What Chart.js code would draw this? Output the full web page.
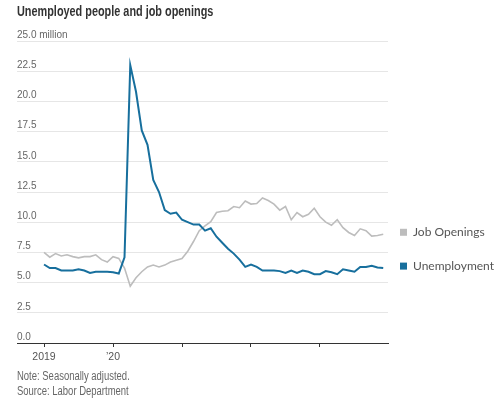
<!DOCTYPE html>
<html>
<head>
<meta charset="utf-8">
<script src="https://cdn.jsdelivr.net/npm/chart.js@4"></script>
<style>
  html, body { margin: 0; padding: 0; background: #fff; }
  #wrap { position: relative; width: 500px; height: 405px; overflow: hidden; }
  #chart { position: absolute; left: 0; top: 0; }
  .title { position: absolute; left: 17px; top: 3px; font: bold 14.5px "Liberation Sans", sans-serif; color: #333; transform: scaleX(0.75); transform-origin: left top; white-space: nowrap; }
  .note { position: absolute; left: 17px; font: 12px "Liberation Sans", sans-serif; color: #666; transform: scaleX(0.79); transform-origin: left top; white-space: nowrap; }
</style>
</head>
<body>
<div id="wrap">
  <canvas id="chart" width="500" height="405"></canvas>
  <div class="title">Unemployed people and job openings</div>
  <div class="note" style="top:369px">Note: Seasonally adjusted.</div>
  <div class="note" style="top:384px">Source: Labor Department</div>
</div>
<script>
// monthly, Jan 2019 - Dec 2023, millions
const months = [
  '2019-01','2019-02','2019-03','2019-04','2019-05','2019-06','2019-07','2019-08','2019-09','2019-10','2019-11','2019-12',
  '2020-01','2020-02','2020-03','2020-04','2020-05','2020-06','2020-07','2020-08','2020-09','2020-10','2020-11','2020-12',
  '2021-01','2021-02','2021-03','2021-04','2021-05','2021-06','2021-07','2021-08','2021-09','2021-10','2021-11','2021-12',
  '2022-01','2022-02','2022-03','2022-04','2022-05','2022-06','2022-07','2022-08','2022-09','2022-10','2022-11','2022-12',
  '2023-01','2023-02','2023-03','2023-04','2023-05','2023-06','2023-07','2023-08','2023-09','2023-10','2023-11','2023-12'
];

const unemployment = [
  6.5, 6.2, 6.2, 6.0, 6.0, 6.0, 6.1, 6.0, 5.8, 5.9, 5.9, 5.9,
  5.85, 5.75, 7.1, 23.0, 20.8, 17.6, 16.4, 13.5, 12.5, 11.0, 10.7, 10.8,
  10.2, 10.0, 9.8, 9.8, 9.3, 9.5, 8.8, 8.3, 7.8, 7.4, 6.9, 6.3,
  6.5, 6.3, 6.0, 6.0, 6.0, 5.95, 5.8, 6.0, 5.8, 6.0, 5.9, 5.7,
  5.7, 5.95, 5.85, 5.7, 6.1, 6.0, 5.9, 6.3, 6.3, 6.4, 6.25, 6.2
];

const jobOpenings = [
  7.5, 7.1, 7.4, 7.2, 7.3, 7.15, 7.05, 7.15, 7.15, 7.3, 6.9, 6.7,
  7.15, 7.0, 6.2, 4.7, 5.4, 5.9, 6.3, 6.45, 6.3, 6.45, 6.7, 6.85,
  7.0, 7.6, 8.4, 9.3, 9.7, 10.05, 10.8, 10.9, 10.95, 11.3, 11.2, 11.75,
  11.5, 11.55, 12.0, 11.8, 11.5, 11.0, 11.3, 10.2, 10.8, 10.45, 10.65, 11.15,
  10.45, 10.0, 9.75, 10.2, 9.55, 9.15, 8.9, 9.45, 9.3, 8.85, 8.9, 9.0
];

const xTickMonths = [0, 12, 24, 36, 48];
const xTickLabels = ['2019', '\u201920', '', '', ''];
const yTicks = [0, 2.5, 5, 7.5, 10, 12.5, 15, 17.5, 20, 22.5, 25];

const BLUE = '#176f9d';
const GREY = '#bdbdbd';

const endLabels = {
  id: 'endLabels',
  afterDatasetsDraw(chart) {
    const { ctx, scales: { y } } = chart;
    ctx.save();
    ctx.font = '12px Lato, sans-serif';
    ctx.textBaseline = 'middle';
    chart.data.datasets.forEach(ds => {
      const last = ds.data[ds.data.length - 1];
      const py = y.getPixelForValue(last.y) - 2;
      ctx.fillStyle = ds.borderColor;
      ctx.fillRect(400, py - 3.5, 7, 7);
      ctx.fillStyle = '#555';
      ctx.fillText(ds.label, 413, py);
    });
    ctx.restore();
  }
};

Chart.defaults.font.family = '"Liberation Sans", sans-serif';

new Chart(document.getElementById('chart').getContext('2d'), {
  type: 'line',
  data: {
    datasets: [
      {
        label: 'Job Openings',
        data: jobOpenings.map((v, i) => ({ x: i, y: v })),
        borderColor: GREY,
        borderWidth: 1.6,
        pointRadius: 0,
        tension: 0,
        order: 2
      },
      {
        label: 'Unemployment',
        data: unemployment.map((v, i) => ({ x: i, y: v })),
        borderColor: BLUE,
        borderWidth: 2,
        pointRadius: 0,
        tension: 0,
        order: 1
      }
    ]
  },
  options: {
    responsive: false,
    animation: false,
    devicePixelRatio: 1,
    layout: { padding: { left: 17, right: 112, top: 41, bottom: 0 } },
    plugins: { legend: { display: false }, tooltip: { enabled: false } },
    scales: {
      x: {
        type: 'linear',
        min: -4.7,
        max: 59.83,
        afterFit: scale => { scale.height = 62; },
        afterBuildTicks: scale => { scale.ticks = xTickMonths.map(v => ({ value: v })); },
        grid: { drawOnChartArea: false, drawTicks: true, tickLength: 4, color: '#333' },
        border: { display: true, color: '#333', width: 1 },
        ticks: {
          padding: 4,
          color: '#555',
          font: { size: 10.5 },
          maxRotation: 0,
          callback: v => xTickLabels[xTickMonths.indexOf(v)] ?? ''
        }
      },
      y: {
        min: 0,
        max: 25,
        afterFit: scale => { scale.width = 0; },
        afterBuildTicks: scale => { scale.ticks = yTicks.map(v => ({ value: v })); },
        grid: { color: '#e6e6e6', drawTicks: false },
        border: { display: false },
        ticks: {
          mirror: true,
          padding: 0,
          labelOffset: -6,
          color: '#666',
          font: { size: 10 },
          callback: v => v === 25 ? '25.0 million' : v.toFixed(1)
        }
      }
    }
  },
  plugins: [endLabels]
});
</script>
</body>
</html>
